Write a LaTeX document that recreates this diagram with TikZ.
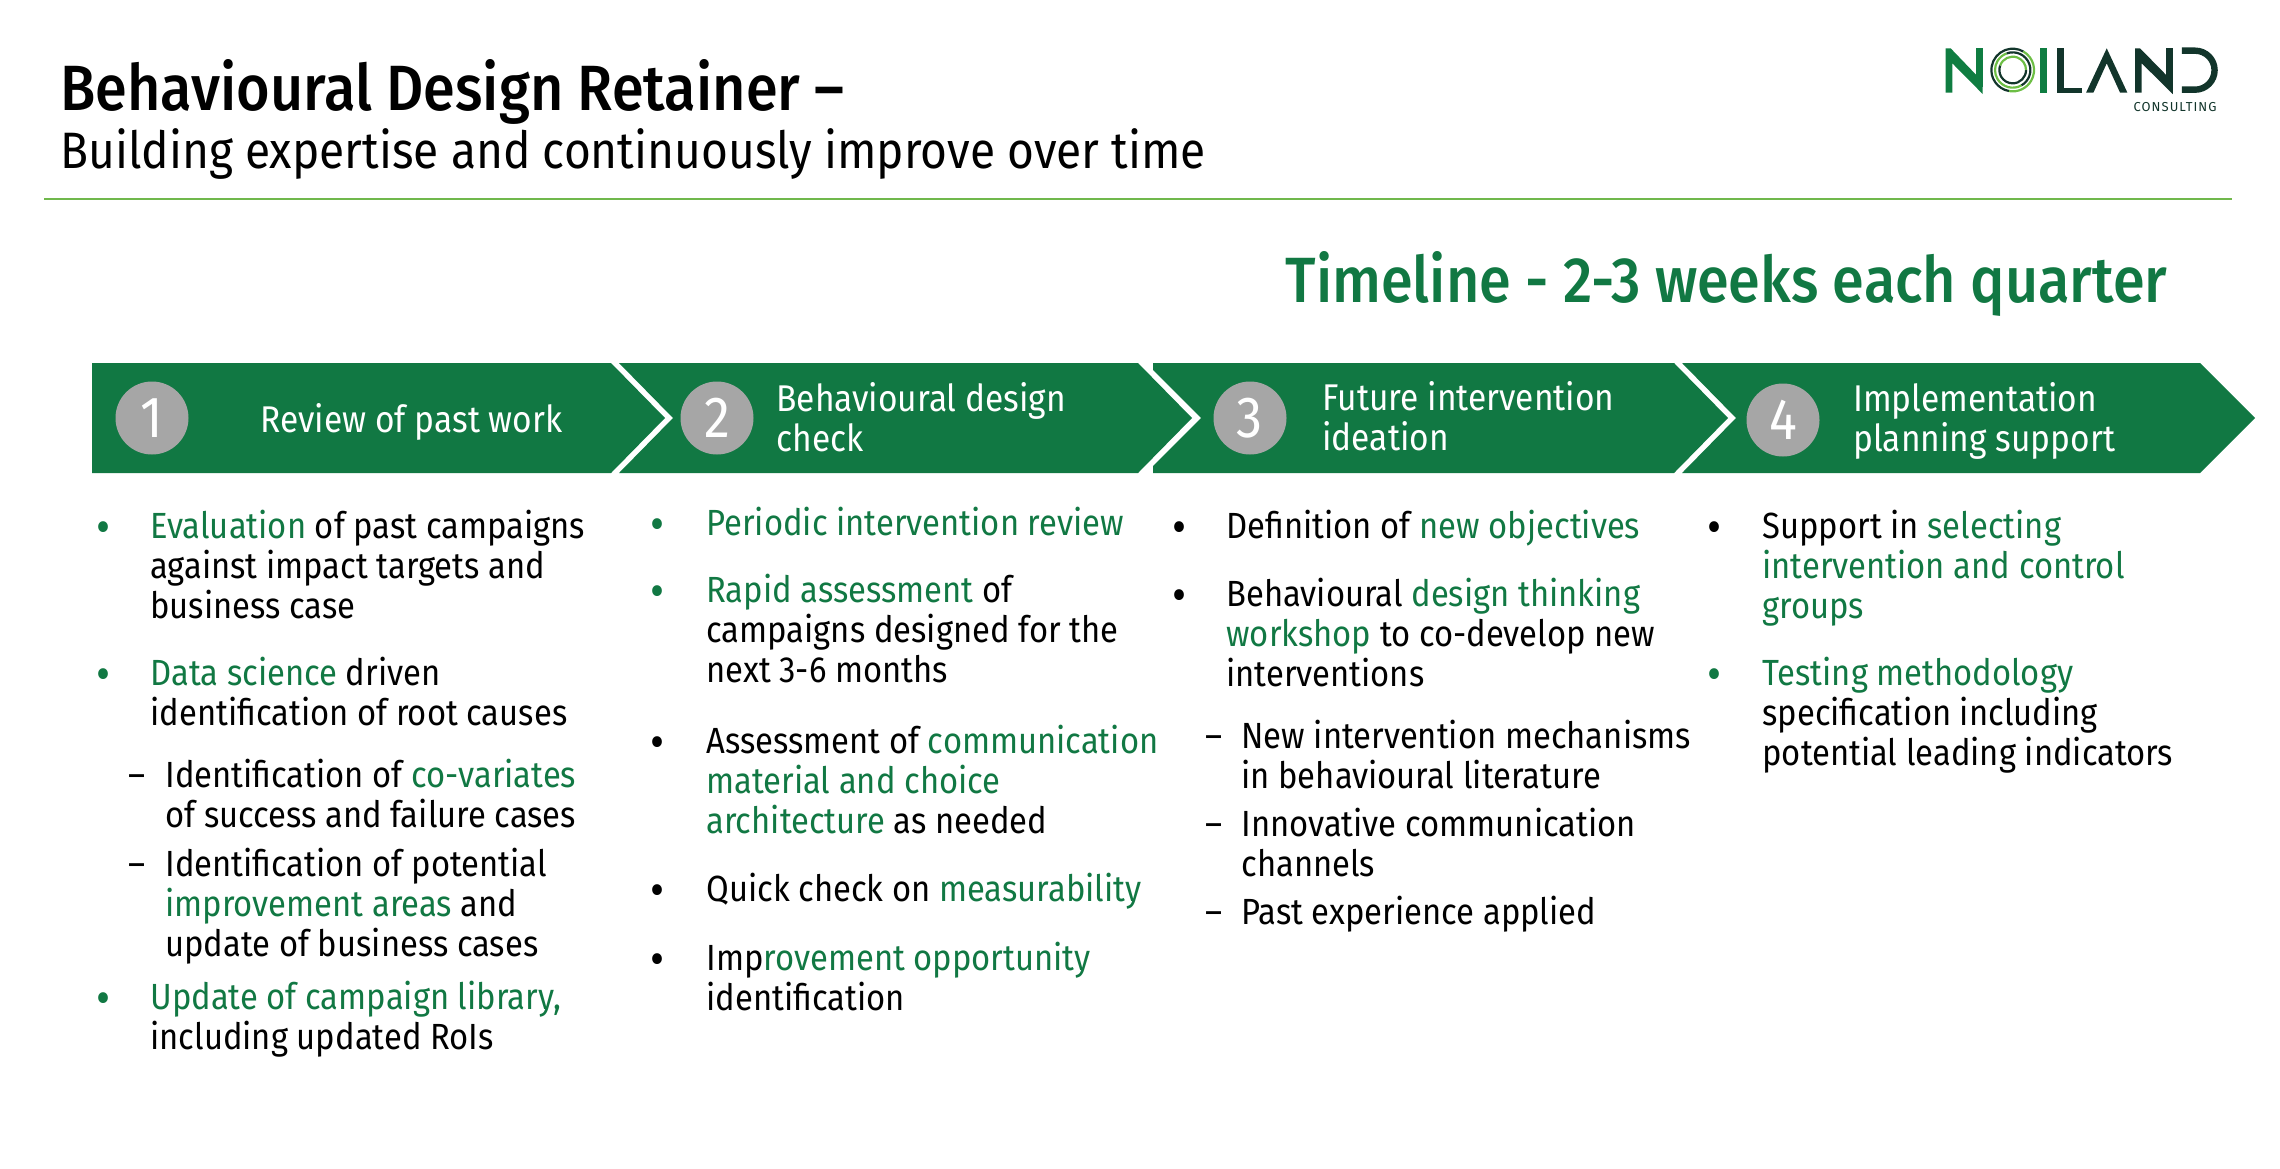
\documentclass[tikz,border=0pt]{standalone}
\usepackage{fontspec}
\setmainfont[FakeStretch=0.9]{Fira Sans}
\newfontfamily\medfont[FakeStretch=0.9]{Fira Sans Medium}
\newfontfamily\logofont[LetterSpace=8]{Fira Sans}
\definecolor{band}{HTML}{117843}
\definecolor{dk}{HTML}{12352B}
\definecolor{lg}{HTML}{6DBE45}
\definecolor{logog}{HTML}{0F7D41}
\definecolor{rulecol}{HTML}{70B84C}
\definecolor{disc}{HTML}{A6A6A6}
\newcommand{\gr}[1]{\textcolor{band}{#1}}
\newcommand{\bul}{\strut\raisebox{-2.4pt}{\fontsize{24}{20}\selectfont •}}
\newcommand{\dsh}{\strut –}
\tikzset{
 x=0.5pt,y=-0.5pt,
 body/.style={anchor=north west,inner sep=0pt,align=left,font=\fontsize{18.2}{20}\selectfont,text=black,execute at begin node={\lineskiplimit=-8pt}},
 marker/.style={anchor=north west,inner sep=0pt,font=\fontsize{18.2}{20}\selectfont},
 bullet/.style={marker,text=black},
 gbullet/.style={marker,text=band},
 headtxt/.style={anchor=west,inner sep=0pt,align=left,text=white,font=\fontsize{18.6}{20}\selectfont,execute at begin node={\lineskiplimit=-8pt}},
 numdisc/.style={circle,fill=disc,minimum size=36.5pt,inner sep=0pt,text=white,font=\fontsize{29}{29}\selectfont},
 ring/.style={line width=1.1pt},
}
\begin{document}
\begin{tikzpicture}
\useasboundingbox (0,0) rectangle (2280,1168);
\node[anchor=base west,inner sep=0pt,font=\medfont\fontsize{32}{34}\selectfont] (title) at (60,110) {Behavioural Design Retainer –};
\node[anchor=base west,inner sep=0pt,font=\fontsize{25.6}{28}\selectfont] (sub) at (60,168) {Building expertise and continuously improve over time};
\draw[rulecol,line width=1pt] (44,199) -- (2232,199);
\node[anchor=base east,inner sep=0pt,text=band,font=\medfont\fontsize{32}{34}\selectfont] (tl) at (2168,302) {Timeline - 2-3 weeks each quarter};
% band
\fill[band] (92,363) -- (611,363) -- (665,418) -- (611,473) -- (92,473) -- cycle;
\fill[band] (619,363) -- (1138,363) -- (1192,418) -- (1138,473) -- (619,473) -- (673,418) -- cycle;
\fill[band] (1153,363) -- (1674,363) -- (1728,418) -- (1674,473) -- (1153,473) -- (1153,466) -- (1201,418) -- (1153,370) -- cycle;
\fill[band] (1682,363) -- (2200,363) -- (2255,418) -- (2200,473) -- (1682,473) -- (1736,418) -- cycle;
\node[numdisc] (n1) at (152,418) {1};
\node[numdisc] (n2) at (717,418) {2};
\node[numdisc] (n3) at (1250,418) {3};
\node[numdisc] (n4) at (1783,420) {4};
\node[headtxt] (h1) at (260,424) {\strut Review of past work};
\node[headtxt] (h2) at (776,423) {\strut Behavioural design\\\strut check};
\node[headtxt] (h3) at (1322,422) {\strut Future intervention\\\strut ideation};
\node[headtxt] (h4) at (1853,423) {\strut Implementation\\\strut planning support};
% column 1
\node[gbullet] (b11) at (96,510) {\bul};
\node[body] (t11) at (150,510) {\strut\gr{Evaluation} of past campaigns\\against impact targets and\\business case};
\node[gbullet] (b12) at (96,657) {\bul};
\node[body] (t12) at (150,657) {\strut\gr{Data science} driven\\identification of root causes};
\node[bullet] (b13) at (128,759) {\dsh};
\node[body] (t13) at (165,759) {\strut Identification of \gr{co-variates}\\of success and failure cases};
\node[bullet] (b14) at (128,848) {\dsh};
\node[body] (t14) at (165,848) {\strut Identification of potential\\\gr{improvement areas} and\\update of business cases};
\node[gbullet] (b15) at (96,981) {\bul};
\node[body] (t15) at (150,981) {\strut\gr{Update of campaign library,}\\including updated RoIs};
% column 2
\node[gbullet] (b21) at (650,507) {\bul};
\node[body] (t21) at (706,507) {\strut\gr{Periodic intervention review}};
\node[gbullet] (b22) at (650,574) {\bul};
\node[body] (t22) at (706,574) {\strut\gr{Rapid assessment} of\\campaigns designed for the\\next 3-6 months};
\node[bullet] (b23) at (650,725) {\bul};
\node[body] (t23) at (706,725) {\strut Assessment of \gr{communication}\\\gr{material and choice}\\\gr{architecture} as needed};
\node[bullet] (b24) at (650,873) {\bul};
\node[body] (t24) at (706,873) {\strut Quick check on \gr{measurability}};
\node[bullet] (b25) at (650,942) {\bul};
\node[body] (t25) at (706,942) {\strut Imp\gr{rovement opportunity}\\identification};
% column 3
\node[bullet] (b31) at (1172,510) {\bul};
\node[body] (t31) at (1226,510) {\strut Definition of \gr{new objectives}};
\node[bullet] (b32) at (1172,578) {\bul};
\node[body] (t32) at (1226,578) {\strut Behavioural \gr{design thinking}\\\gr{workshop} to co-develop new\\interventions};
\node[bullet] (b33) at (1205,720) {\dsh};
\node[body] (t33) at (1241,720) {\strut New intervention mechanisms\\in behavioural literature};
\node[bullet] (b34) at (1205,808) {\dsh};
\node[body] (t34) at (1241,808) {\strut Innovative communication\\channels};
\node[bullet] (b35) at (1205,896) {\dsh};
\node[body] (t35) at (1241,896) {\strut Past experience applied};
% column 4
\node[bullet] (b41) at (1707,510) {\bul};
\node[body] (t41) at (1762,510) {\strut Support in \gr{selecting}\\\gr{intervention and control}\\\gr{groups}};
\node[gbullet] (b42) at (1707,657) {\bul};
\node[body] (t42) at (1762,657) {\strut\gr{Testing methodology}\\specification including\\potential leading indicators};
% logo
\begin{scope}[shift={(1900,20)},x=0.1667pt,y=-0.1667pt]
\fill[logog] (137,85) -- (152,85) -- (248,185) -- (248,222) -- (157,130) -- (157,218) -- (137,218) -- cycle;
\fill[logog] (228,85) rectangle (248,200);
\fill[logog] (420,85) rectangle (440,218);
\draw[ring,dk] (338,150) ++(100:64) arc (100:300:64);
\draw[ring,lg] (338,150) ++(300:64) arc (300:460:64);
\draw[ring,lg] (338,150) ++(60:53) arc (60:250:53);
\draw[ring,dk] (338,150) ++(250:53) arc (250:420:53);
\draw[ring,dk] (338,150) ++(0:40) arc (0:200:40);
\draw[ring,lg] (338,150) ++(200:40) arc (200:360:40);
\fill[dk] (472,85) rectangle (492,218);
\fill[dk] (492,203) rectangle (545,218);
\fill[dk] (620,85) -- (682,218) -- (660,218) -- (620,130) -- (580,218) -- (558,218) -- cycle;
\fill[dk] (705,85) -- (720,85) -- (818,185) -- (818,222) -- (725,130) -- (725,218) -- (705,218) -- cycle;
\fill[dk] (798,85) rectangle (818,200);
\draw[dk,line width=3.2pt] (845,92) -- (885,92) arc (-90:90:58.5) -- (845,209);
\end{scope}
\node[anchor=base east,inner sep=0pt,text=dk,font=\logofont\fontsize{6.5}{7}\selectfont] (cons) at (2217,111) {CONSULTING};
\end{tikzpicture}
\end{document}
